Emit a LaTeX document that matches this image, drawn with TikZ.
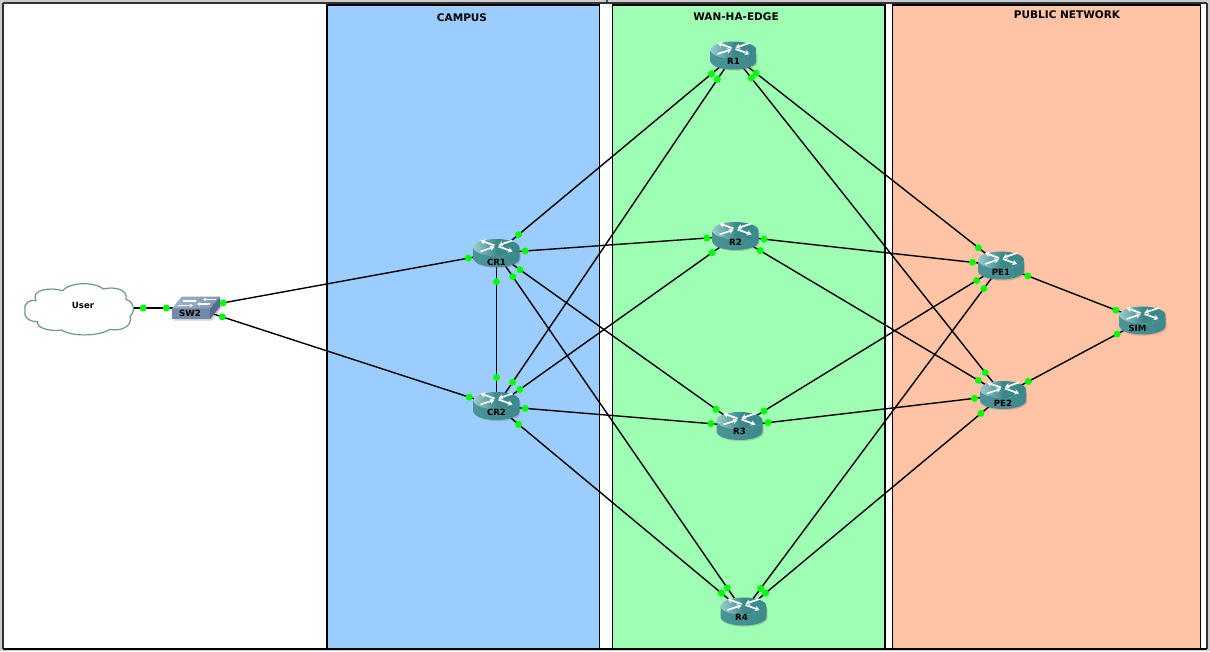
\documentclass[tikz,border=0pt]{standalone}
\usepackage{fontspec}
\setmainfont{DejaVu Sans}
\usetikzlibrary{arrows.meta}
\pgfdeclarelayer{back}
\pgfdeclarelayer{links}
\pgfdeclarelayer{top}
\pgfsetlayers{back,links,main,top}
\definecolor{panelblue}{HTML}{9CCDFF}
\definecolor{panelgreen}{HTML}{9EFFB4}
\definecolor{panelorange}{HTML}{FFC3A6}
\definecolor{teal1}{HTML}{3C898C}
\definecolor{teal2}{HTML}{4A9497}
\definecolor{teal3}{HTML}{9CCCCD}
\definecolor{cloudline}{HTML}{6F9496}
\definecolor{swtop}{HTML}{9DB2C9}
\definecolor{swtopb}{HTML}{7F97B3}
\definecolor{swfront}{HTML}{7189A8}
\definecolor{swside}{HTML}{566E8C}
\tikzset{
  x=1pt,y=-1pt,
  panel/.style={draw=black,line width=1.3pt},
  paneltitle/.style={font=\fontsize{10.5}{12}\selectfont\bfseries,text=black,inner sep=0pt},
  hub/.style={circle,minimum size=57pt,inner sep=0pt},
  devlabel/.style={font=\fontsize{8.6}{9}\selectfont\bfseries,text=black,inner sep=0pt},
  linkline/.style={draw=black,line width=1.4pt},
  portdot/.style={circle,fill=green,minimum size=7pt,inner sep=0pt},
  whitearrow/.style={draw=white,line width=1.7pt,-{Stealth[length=4.5pt,width=5.5pt]}},
  swarrow/.style={draw=white,line width=1.2pt,-{Stealth[length=3pt,width=3.5pt]}},
}
% #1 label x offset, #2 name, #3 position, #4 label text, #5 label y offset
\newcommand{\routerat}[5][0]{%
  \node[hub] (#2) at (#3) {};
  \begin{scope}[shift={(#2.center)}]
    \fill[black!45!panelorange,opacity=.3,shift={(1.2,1.2)}] (-23,-5.5) -- (-23,5.5) arc[start angle=180,end angle=0,x radius=23,y radius=8.5] -- (23,-5.5) arc[start angle=0,end angle=180,x radius=23,y radius=8.5] -- cycle;
    \path[left color=teal2,right color=teal1] (-23,-5.5) -- (-23,5.5) arc[start angle=180,end angle=0,x radius=23,y radius=8.5] -- (23,-5.5) arc[start angle=0,end angle=180,x radius=23,y radius=8.5] -- cycle;
    \path[left color=teal3,right color=teal1,middle color=teal1] (0,-5.5) ellipse[x radius=23,y radius=8.5];
    \draw[whitearrow] (-2,-7.5) -- (-16,-12.5);
    \draw[whitearrow] (2,-6.5) -- (16,-1.5);
    \draw[whitearrow] (16,-12.5) -- (2,-7.8);
    \draw[whitearrow] (-16,-1.5) -- (-2,-6.2);
  \end{scope}
  \node[devlabel] (#2-label) at ([xshift=#1pt,yshift=-#5pt]#2.center) {#4};
}
\newcommand{\lnk}[2]{%
  \begin{pgfonlayer}{links}
    \draw[linkline] (#1.center) -- (#2.center);
  \end{pgfonlayer}
  \begin{pgfonlayer}{top}
    \path (#1) -- (#2) node[portdot,pos=0] (#1-#2-a) {} node[portdot,pos=1] (#1-#2-b) {};
  \end{pgfonlayer}
}
\begin{document}
\begin{tikzpicture}
\useasboundingbox (0,0) rectangle (1210,651);
\begin{pgfonlayer}{back}
  \fill[white] (0,0) rectangle (1210,651);
  \fill[black!20] (0,0) rectangle (1210,2);
  \fill[black!20] (0,649.5) rectangle (1210,651);
  \fill[black!20] (1208,0) rectangle (1210,651);
  \fill[black!20] (0,0) rectangle (2,651);
  \draw[black!80,line width=2pt] (3,3) -- (1207,3);
  \draw[black!80,line width=2pt] (3,3) -- (3,649);
  \draw[black!80,line width=2pt] (1207,3) -- (1207,649);
  \draw[black,line width=2pt] (3,649) -- (1207,649);
  \fill[black!70] (606,0) rectangle (607.5,2);
  \draw[panel,fill=panelblue] (327,5) rectangle (599.5,648.5);
  \draw[panel,fill=panelgreen] (612.5,5) rectangle (885,648.5);
  \draw[panel,fill=panelorange] (892.5,5) rectangle (1200.5,648.5);
\end{pgfonlayer}
\node[paneltitle] (tcampus) at (462,18) {CAMPUS};
\node[paneltitle] (twan) at (736,17) {WAN-HA-EDGE};
\node[paneltitle] (tpublic) at (1067,15) {PUBLIC NETWORK};

% cloud
\node[minimum width=120pt,minimum height=60pt,inner sep=0pt] (User) at (83,308) {};
\begin{scope}[shift={(20,280)},scale=0.3333]
  \draw[cloudline,fill=white,line width=1.2pt]
    (15,90) .. controls (10,65) and (35,58) .. (48,62)
    .. controls (30,30) and (90,20) .. (128,32)
    .. controls (150,5) and (225,5) .. (250,27)
    .. controls (285,18) and (325,30) .. (318,58)
    .. controls (345,65) and (345,100) .. (330,108)
    .. controls (340,140) and (300,155) .. (270,148)
    .. controls (235,170) and (155,170) .. (125,150)
    .. controls (90,155) and (50,145) .. (52,125)
    .. controls (25,125) and (10,110) .. (15,90) -- cycle;
\end{scope}
\node[devlabel] (User-label) at (83,305.5) {User};

% switch
\node[hub] (SW2) at (195,308) {};
\path[fill=black,opacity=.18] (173.5,309.5) -- (211.5,309.5) -- (221.5,298) -- (221.5,308) -- (211.5,320.5) -- (173.5,320.5) -- cycle;
\path[fill=swside] (210,308.3) -- (220,296.7) -- (220,306.7) -- (210,319.3) -- cycle;
\path[fill=swfront] (172.3,308.3) rectangle (210,319.3);
\path[left color=swtop,right color=swtopb] (181.7,296.7) -- (220,296.7) -- (210,308.3) -- (172.3,308.3) -- cycle;
\draw[swarrow] (183,301) -- (197,301);
\draw[swarrow] (216,299.5) -- (203,299.5);
\draw[swarrow] (178,305.5) -- (193,305.5);
\draw[swarrow] (210,304) -- (197,304);
\node[devlabel] (SW2-label) at (190,313.5) {SW2};

\routerat{CRa}{496.5,253}{CR1}{9}
\routerat{CRb}{496.5,406}{CR2}{6.5}
\routerat{Ra}{733.5,55.5}{R1}{6}
\routerat{Rb}{735.5,236}{R2}{6}
\routerat{Rc}{739.5,426}{R3}{5.5}
\routerat[-2]{Rd}{743.5,611.5}{R4}{5.5}
\routerat{PEa}{1001,265.5}{PE1}{6.5}
\routerat{PEb}{1003,395}{PE2}{8}
\routerat[-5]{SIM}{1142.5,320.5}{SIM}{8}

\lnk{User}{SW2}
\lnk{SW2}{CRa}
\lnk{SW2}{CRb}
\lnk{CRa}{CRb}
\lnk{CRa}{Ra}
\lnk{CRa}{Rb}
\lnk{CRa}{Rc}
\lnk{CRa}{Rd}
\lnk{CRb}{Ra}
\lnk{CRb}{Rb}
\lnk{CRb}{Rc}
\lnk{CRb}{Rd}
\lnk{Ra}{PEa}
\lnk{Ra}{PEb}
\lnk{Rb}{PEa}
\lnk{Rb}{PEb}
\lnk{Rc}{PEa}
\lnk{Rc}{PEb}
\lnk{Rd}{PEa}
\lnk{Rd}{PEb}
\lnk{PEa}{SIM}
\lnk{PEb}{SIM}
\end{tikzpicture}
\end{document}
